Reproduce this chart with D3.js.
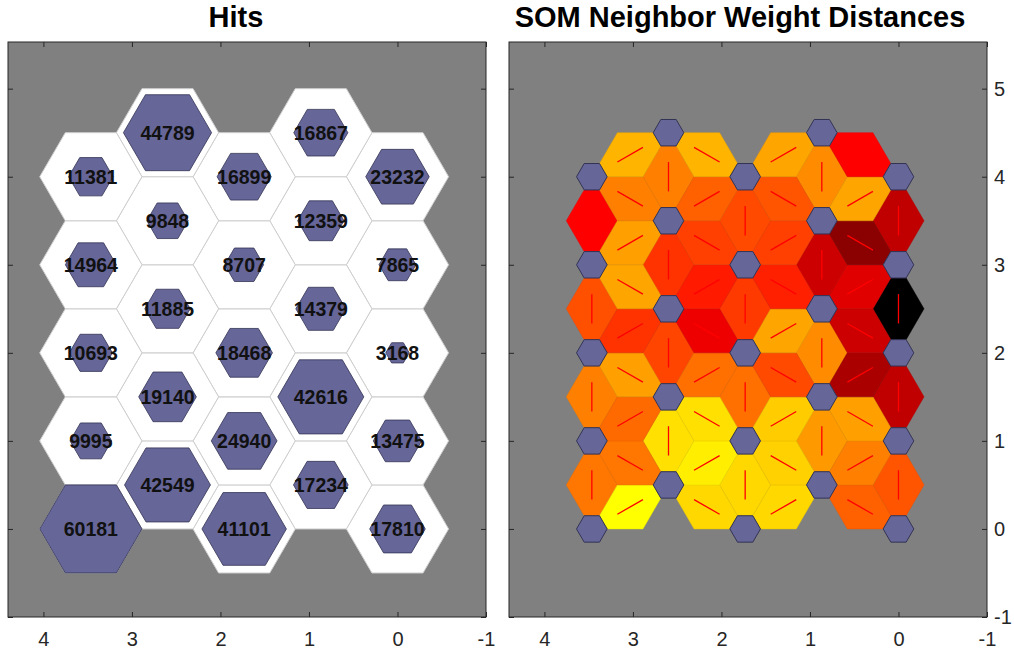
<!DOCTYPE html>
<html>
<head>
<meta charset="utf-8">
<script src="https://cdn.jsdelivr.net/npm/d3@7"></script>
<style>
  body { margin: 0; background: #ffffff; }
  svg { display: block; font-family: "Liberation Sans", Arial, Helvetica, sans-serif; }
</style>
</head>
<body>
<svg id="fig" width="1014" height="657"></svg>
<script>
// ---- Data -------------------------------------------------------------
// Hit counts per neuron, one array per map column (column 0 at x = 0),
// listed from the bottom row to the top row.
const hitsColumn0 = [17810, 13475, 3168, 7865, 23232];
const hitsColumn1 = [17234, 42616, 14379, 12359, 16867];
const hitsColumn2 = [41101, 24940, 18468, 8707, 16899];
const hitsColumn3 = [42549, 19140, 11885, 9848, 44789];
const hitsColumn4 = [60181, 9995, 10693, 14964, 11381];

// Normalised neighbour weight distances (0 = closest, 1 = farthest).
// Links inside one column, bottom to top.
const columnLinks0 = [0.333, 0.624, 1.000, 0.624];
const columnLinks1 = [0.200, 0.225, 0.600, 0.225];
const columnLinks2 = [0.076, 0.280, 0.386, 0.355];
const columnLinks3 = [0.061, 0.365, 0.400, 0.249];
const columnLinks4 = [0.267, 0.250, 0.343, 0.500];
// Links between neighbouring columns, bottom to top (9 per column pair).
const pairLinks01 = [0.312, 0.250, 0.186, 0.667, 0.600, 0.561, 0.727, 0.176, 0.500];
const pairLinks12 = [0.076, 0.090, 0.100, 0.355, 0.176, 0.437, 0.375, 0.333, 0.176];
const pairLinks23 = [0.076, 0.033, 0.061, 0.280, 0.533, 0.449, 0.375, 0.312, 0.147];
const pairLinks34 = [0.000, 0.267, 0.292, 0.186, 0.400, 0.176, 0.186, 0.250, 0.147];

const xTicks = [4, 3, 2, 1, 0, -1];
const yTicks = [5, 4, 3, 2, 1, 0, -1];

// ---- Layout -----------------------------------------------------------
const hitsColumns = [hitsColumn0, hitsColumn1, hitsColumn2, hitsColumn3, hitsColumn4];
const columnLinks = [columnLinks0, columnLinks1, columnLinks2, columnLinks3, columnLinks4];
const pairLinks = [pairLinks01, pairLinks12, pairLinks23, pairLinks34];

const svg = d3.select("#fig");
const plotTop = 42, plotBottom = 617;
const xDomain = [4.4, -1], yDomain = [-1, 5.53];
const panels = [
  { x0: 8,   x1: 486, title: "Hits", titleX: 236, yLabels: false },
  { x0: 509, x1: 987, title: "SOM Neighbor Weight Distances", titleX: 740, yLabels: true }
];
const axisColor = "#262626";
const colStep = Math.sqrt(0.75);
const R = 1 / Math.sqrt(3);          // circumradius of a full neuron cell
const plainNumber = d => String(d);  // keeps an ASCII hyphen for negatives

function neuronPos(j, i) { return [j * colStep, i + 0.5 * (j % 2)]; }

function scalesFor(p) {
  return {
    x: d3.scaleLinear().domain(xDomain).range([p.x0, p.x1]),
    y: d3.scaleLinear().domain(yDomain).range([plotBottom, plotTop])
  };
}

function polyPath(pts, sc) {
  return "M" + pts.map(q => sc.x(q[0]).toFixed(2) + "," + sc.y(q[1]).toFixed(2)).join("L") + "Z";
}

function hexPoints(c, size) {
  return d3.range(6).map(k => {
    const a = k * Math.PI / 3;
    return [c[0] + size * R * Math.cos(a), c[1] + size * R * Math.sin(a)];
  });
}

function drawFrame(p) {
  svg.append("rect")
    .attr("x", p.x0).attr("y", plotTop)
    .attr("width", p.x1 - p.x0).attr("height", plotBottom - plotTop)
    .attr("fill", "#808080");
}

function drawAxes(p, sc) {
  const g = svg.append("g");
  const style = sel => {
    sel.select(".domain").remove();
    sel.selectAll(".tick line").attr("stroke", axisColor);
    sel.selectAll(".tick text").attr("fill", axisColor)
      .style("font-size", "20px").style("font-family", '"Liberation Sans", Arial, sans-serif');
  };
  g.append("g").attr("transform", `translate(0,${plotBottom})`)
    .call(d3.axisBottom(sc.x).tickValues(xTicks).tickSize(-5).tickPadding(15).tickFormat(plainNumber))
    .call(style);
  g.append("g").attr("transform", `translate(0,${plotTop})`)
    .call(d3.axisTop(sc.x).tickValues(xTicks).tickSize(-5).tickFormat(""))
    .call(style);
  g.append("g").attr("transform", `translate(${p.x0},0)`)
    .call(d3.axisLeft(sc.y).tickValues(yTicks).tickSize(-5).tickFormat(""))
    .call(style);
  g.append("g").attr("transform", `translate(${p.x1},0)`)
    .call(d3.axisRight(sc.y).tickValues(yTicks).tickSize(-5).tickPadding(7)
      .tickFormat(p.yLabels ? plainNumber : ""))
    .call(style);
  g.append("rect")
    .attr("x", p.x0).attr("y", plotTop)
    .attr("width", p.x1 - p.x0).attr("height", plotBottom - plotTop)
    .attr("fill", "none").attr("stroke", axisColor).attr("stroke-width", 1);
  svg.append("text")
    .attr("x", p.titleX).attr("y", 27)
    .attr("text-anchor", "middle")
    .attr("font-weight", "bold").attr("font-size", "29px")
    .attr("fill", "#000")
    .text(p.title);
}

// ---- Left panel: hits --------------------------------------------------
(function () {
  const p = panels[0], sc = scalesFor(p);
  drawFrame(p);
  const maxHits = d3.max(hitsColumns.flat());
  const neurons = [];
  hitsColumns.forEach((col, j) => col.forEach((h, i) => neurons.push({ pos: neuronPos(j, i), hits: h })));
  const g = svg.append("g");
  g.selectAll("path.cell").data(neurons).join("path")
    .attr("class", "cell")
    .attr("d", d => polyPath(hexPoints(d.pos, 1), sc))
    .attr("fill", "#ffffff").attr("stroke", "#cfcfcf").attr("stroke-width", 1);
  g.selectAll("path.hit").data(neurons).join("path")
    .attr("class", "hit")
    .attr("d", d => polyPath(hexPoints(d.pos, Math.sqrt(d.hits / maxHits)), sc))
    .attr("fill", "#666699").attr("stroke", "#333355").attr("stroke-width", 0.8);
  g.selectAll("text.hitlabel").data(neurons).join("text")
    .attr("class", "hitlabel")
    .attr("x", d => sc.x(d.pos[0])).attr("y", d => sc.y(d.pos[1]))
    .attr("dy", "0.36em")
    .attr("text-anchor", "middle")
    .attr("font-weight", "bold").attr("font-size", "19.5px").attr("fill", "#111")
    .text(d => d.hits);
  drawAxes(p, sc);
})();

// ---- Right panel: neighbour weight distances ---------------------------
(function () {
  const p = panels[1], sc = scalesFor(p);
  drawFrame(p);
  const neuronSize = 0.3;
  const color = d3.scaleLinear().domain([0, 0.5, 1]).range(["#ffff00", "#ff0000", "#000000"]);

  const links = [];
  columnLinks.forEach((col, j) => col.forEach((d, i) => {
    links.push({ a: neuronPos(j, i), b: neuronPos(j, i + 1), dist: d });
  }));
  pairLinks.forEach((pair, j) => pair.forEach((d, k) => {
    const mid = 0.25 + 0.5 * k;
    let ya, yb;
    if (j % 2 === 0) { ya = Math.round(mid); yb = 2 * mid - ya; }
    else { yb = Math.round(mid); ya = 2 * mid - yb; }
    links.push({ a: [j * colStep, ya], b: [(j + 1) * colStep, yb], dist: d });
  }));

  // Each link patch joins the facing edges of the two small neuron hexagons
  // through the corners of the shared cell edge.
  function linkShape(l) {
    const dx = l.b[0] - l.a[0], dy = l.b[1] - l.a[1];
    const len = Math.hypot(dx, dy);
    const u = [dx / len, dy / len], v = [-u[1], u[0]];
    const m = [(l.a[0] + l.b[0]) / 2, (l.a[1] + l.b[1]) / 2];
    const s = neuronSize, h = s * 0.5, w = s * R / 2;
    const pt = (o, du, dv) => [o[0] + u[0] * du + v[0] * dv, o[1] + u[1] * du + v[1] * dv];
    return [
      pt(l.a, h, w), pt(m, 0, R / 2), pt(l.b, -h, w),
      pt(l.b, -h, -w), pt(m, 0, -R / 2), pt(l.a, h, -w)
    ];
  }

  const g = svg.append("g");
  g.selectAll("path.link").data(links).join("path")
    .attr("class", "link")
    .attr("d", l => polyPath(linkShape(l), sc))
    .attr("fill", l => color(l.dist))
    .attr("stroke", l => d3.color(color(l.dist)).darker(0.25))
    .attr("stroke-width", 0.5);
  g.selectAll("line.conn").data(links).join("line")
    .attr("class", "conn")
    .attr("x1", l => sc.x((2 * l.a[0] + l.b[0]) / 3))
    .attr("y1", l => sc.y((2 * l.a[1] + l.b[1]) / 3))
    .attr("x2", l => sc.x((l.a[0] + 2 * l.b[0]) / 3))
    .attr("y2", l => sc.y((l.a[1] + 2 * l.b[1]) / 3))
    .attr("stroke", "#ff0000").attr("stroke-width", 1.3);

  const neurons = [];
  for (let j = 0; j < 5; j++) for (let i = 0; i < 5; i++) neurons.push(neuronPos(j, i));
  g.selectAll("path.neuron").data(neurons).join("path")
    .attr("class", "neuron")
    .attr("d", d => polyPath(hexPoints(d, neuronSize), sc))
    .attr("fill", "#666699").attr("stroke", "#333355").attr("stroke-width", 1);
  drawAxes(p, sc);
})();
</script>
</body>
</html>
